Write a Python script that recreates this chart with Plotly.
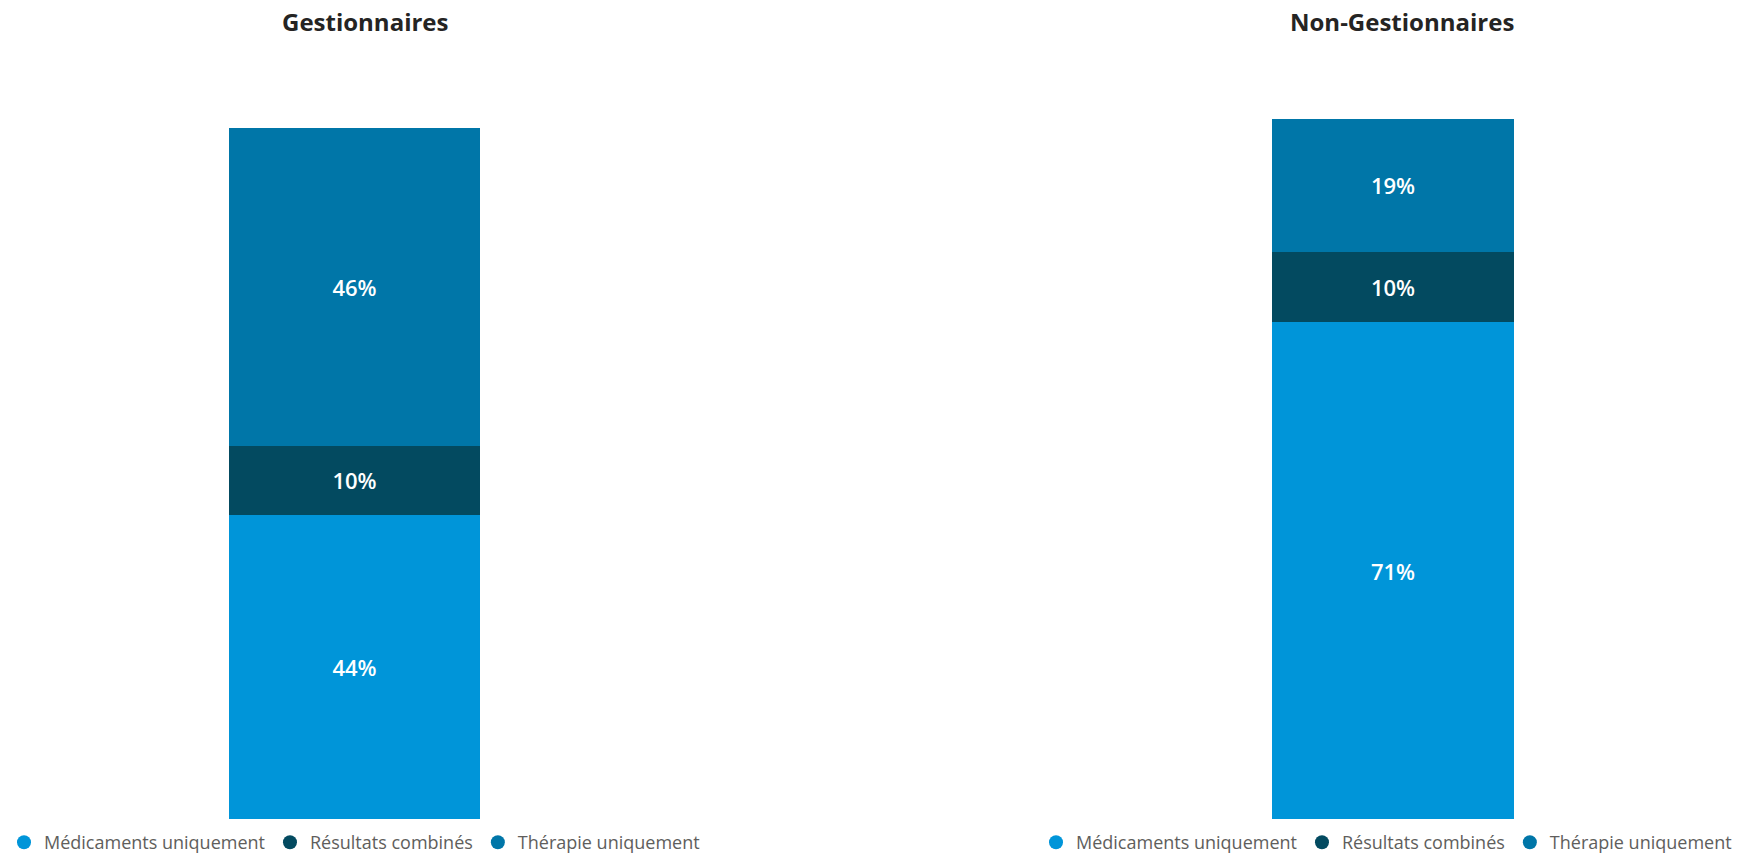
import plotly.graph_objects as go

W, H = 1755, 861
# the photographed page comes out slightly squashed vertically; compensate
KY = 0.989

series = ["Médicaments uniquement", "Résultats combinés", "Thérapie uniquement"]
colors = ["#0095D9", "#034A60", "#0076A8"]

groups = ["Gestionnaires", "Non-Gestionnaires"]
gest_values = [44, 10, 46]
non_gest_values = [71, 10, 19]

fig = go.Figure()


def px_x(p):
    return p / W


def px_y(p):
    return (H - p / KY) / H


panels = [
    # values, xaxis, yaxis, legend, x domain (px), bar top (px), bar width fraction
    (gest_values, "x", "y", "legend", (109.5, 599.5), 127.6, 251 / 490),
    (non_gest_values, "x2", "y2", "legend2", (1148, 1638), 118.6, 242 / 490),
]

for gi, (vals, xa, ya, lg, (x0, x1), ytop, bw) in enumerate(panels):
    for name, col, v in zip(series, colors, vals):
        fig.add_trace(go.Bar(
            x=[groups[gi]], y=[v], name=name, width=[bw],
            marker=dict(color=col, line=dict(width=0)),
            text=[f"{v}%"], textposition="inside", insidetextanchor="middle",
            textfont=dict(color="white", size=22, family="Open Sans", weight=600),
            xaxis=xa, yaxis=ya, showlegend=False, hoverinfo="skip",
        ))
    for name, col in zip(series, colors):
        fig.add_trace(go.Scatter(
            x=[None], y=[None], mode="markers", name=name,
            marker=dict(color=col, size=14, symbol="circle"),
            xaxis=xa, yaxis=ya, legend=lg, showlegend=True,
        ))
    xk = "xaxis" if xa == "x" else "xaxis2"
    yk = "yaxis" if ya == "y" else "yaxis2"
    fig.update_layout(**{
        xk: dict(domain=[px_x(x0), px_x(x1)], range=[-0.5, 0.5], visible=False,
                 anchor=ya, fixedrange=True),
        yk: dict(domain=[px_y(820), px_y(ytop)], range=[0, 100], visible=False,
                 anchor=xa, fixedrange=True),
    })

title_font = dict(family="Open Sans", size=24, color="#252423", weight="bold")
fig.add_annotation(text="Gestionnaires", x=px_x(365), y=px_y(22), xref="paper", yref="paper",
                   showarrow=False, font=title_font, xanchor="center", yanchor="middle")
fig.add_annotation(text="Non-Gestionnaires", x=px_x(1402), y=px_y(22), xref="paper", yref="paper",
                   showarrow=False, font=title_font, xanchor="center", yanchor="middle")

legend_font = dict(family="Open Sans", size=18, color="#605E5C")
leg_y = (H - 852.5) / H
fig.update_layout(
    width=W, height=H,
    margin=dict(l=0, r=0, t=0, b=0),
    paper_bgcolor="white", plot_bgcolor="white",
    barmode="stack",
    legend=dict(orientation="h", x=px_x(4), y=leg_y, xanchor="left", yanchor="middle",
                font=legend_font, itemwidth=30, bgcolor="rgba(0,0,0,0)",
                tracegroupgap=0, traceorder="normal"),
    legend2=dict(orientation="h", x=px_x(1036), y=leg_y, xanchor="left", yanchor="middle",
                 font=legend_font, itemwidth=30, bgcolor="rgba(0,0,0,0)",
                 tracegroupgap=0, traceorder="normal"),
)

fig.write_html(
    "out.html",
    config={"displayModeBar": False},
    post_script="document.body.style.margin='0';document.body.style.overflow='hidden';",
)
